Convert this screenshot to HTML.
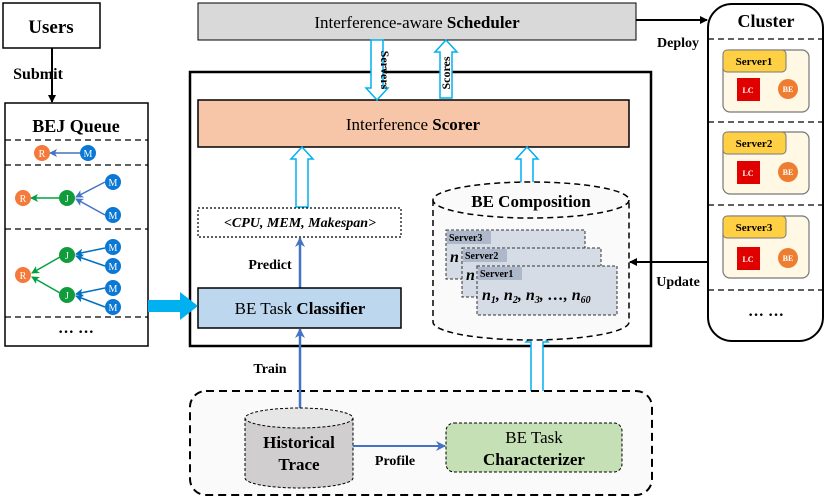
<!DOCTYPE html>
<html><head><meta charset="utf-8"><style>
body{margin:0;background:#fff}
svg{display:block;font-family:"Liberation Serif",serif}
</style></head><body>
<svg width="830" height="498" viewBox="0 0 830 498" xmlns="http://www.w3.org/2000/svg">
<defs>
<marker id="ak" markerWidth="8" markerHeight="8" refX="7" refY="4" orient="auto" markerUnits="userSpaceOnUse"><path d="M0,0 L8,4 L0,8 z" fill="#000"/></marker>
<marker id="ab" markerWidth="10" markerHeight="10" refX="9" refY="5" orient="auto" markerUnits="userSpaceOnUse"><path d="M0,0 L10,5 L0,10 L3,5 z" fill="#4472c4"/></marker>
<marker id="abl" markerWidth="8" markerHeight="8" refX="7" refY="4" orient="auto" markerUnits="userSpaceOnUse"><path d="M0,0 L8,4 L0,8 L2,4 z" fill="#4472c4"/></marker>
<marker id="ag" markerWidth="8" markerHeight="8" refX="7" refY="4" orient="auto" markerUnits="userSpaceOnUse"><path d="M0,0 L8,4 L0,8 L2,4 z" fill="#00a040"/></marker>
<marker id="am" markerWidth="8" markerHeight="8" refX="7" refY="4" orient="auto" markerUnits="userSpaceOnUse"><path d="M0,0 L8,4 L0,8 L2,4 z" fill="#0070c0"/></marker>
</defs>

<!-- Users -->
<rect x="3" y="3" width="97" height="45" fill="#fff" stroke="#000" stroke-width="1.5"/>
<text x="51" y="33" font-size="19" font-weight="bold" text-anchor="middle">Users</text>
<line x1="52" y1="48" x2="52" y2="102" stroke="#000" stroke-width="2" marker-end="url(#ak)"/>
<text x="38" y="79" font-size="16" font-weight="bold" text-anchor="middle">Submit</text>

<!-- BEJ Queue -->
<rect x="5" y="103" width="143" height="243" fill="#fff" stroke="#000" stroke-width="1.5"/>
<text x="76" y="132" font-size="18" font-weight="bold" text-anchor="middle">BEJ Queue</text>
<g stroke="#000" stroke-width="1.3" stroke-dasharray="6,4">
<line x1="5" y1="140" x2="148" y2="140"/><line x1="5" y1="165" x2="148" y2="165"/>
<line x1="5" y1="229" x2="148" y2="229"/><line x1="5" y1="317" x2="148" y2="317"/>
</g>
<text x="76" y="337" font-size="16" font-weight="bold" text-anchor="middle">··· ···</text>
<g stroke-width="1.5">
<line x1="80" y1="153" x2="50" y2="153" stroke="#4472c4" marker-end="url(#abl)"/>
<line x1="60" y1="198" x2="31" y2="198" stroke="#00a040" marker-end="url(#ag)"/>
<line x1="105" y1="182" x2="76" y2="197" stroke="#4472c4" marker-end="url(#abl)"/>
<line x1="105" y1="215" x2="76" y2="199" stroke="#4472c4" marker-end="url(#abl)"/>
<line x1="105" y1="248" x2="76" y2="254" stroke="#0070c0" marker-end="url(#am)"/>
<line x1="105" y1="266" x2="76" y2="256" stroke="#0070c0" marker-end="url(#am)"/>
<line x1="105" y1="288" x2="76" y2="294" stroke="#0070c0" marker-end="url(#am)"/>
<line x1="105" y1="307" x2="76" y2="296" stroke="#0070c0" marker-end="url(#am)"/>
<line x1="60" y1="257" x2="32" y2="273" stroke="#00a040" marker-end="url(#ag)"/>
<line x1="60" y1="293" x2="32" y2="277" stroke="#00a040" marker-end="url(#ag)"/>
</g>
<g font-size="10" fill="#fff" text-anchor="middle">
<circle cx="42" cy="153" r="8" fill="#f4793b"/><text x="42" y="157" fill="#fff">R</text>
<circle cx="88" cy="153" r="8" fill="#0a78d4"/><text x="88" y="157" fill="#fff">M</text>
<circle cx="23" cy="198" r="8" fill="#f4793b"/><text x="23" y="202" fill="#fff">R</text>
<circle cx="67" cy="198" r="8" fill="#119c3c"/><text x="67" y="202" fill="#fff">J</text>
<circle cx="113" cy="182" r="8" fill="#0a78d4"/><text x="113" y="186" fill="#fff">M</text>
<circle cx="113" cy="215" r="8" fill="#0a78d4"/><text x="113" y="219" fill="#fff">M</text>
<circle cx="23" cy="275" r="8" fill="#f4793b"/><text x="23" y="279" fill="#fff">R</text>
<circle cx="67" cy="255" r="8" fill="#119c3c"/><text x="67" y="259" fill="#fff">J</text>
<circle cx="67" cy="295" r="8" fill="#119c3c"/><text x="67" y="299" fill="#fff">J</text>
<circle cx="113" cy="247" r="8" fill="#0a78d4"/><text x="113" y="251" fill="#fff">M</text>
<circle cx="113" cy="266" r="8" fill="#0a78d4"/><text x="113" y="270" fill="#fff">M</text>
<circle cx="113" cy="288" r="8" fill="#0a78d4"/><text x="113" y="292" fill="#fff">M</text>
<circle cx="113" cy="307" r="8" fill="#0a78d4"/><text x="113" y="311" fill="#fff">M</text>
</g>

<!-- Scheduler -->
<rect x="198" y="3" width="438" height="37" fill="#d9d9d9" stroke="#000" stroke-width="1"/>
<text x="417" y="28" font-size="17" text-anchor="middle">Interference-aware <tspan font-weight="bold">Scheduler</tspan></text>

<!-- Main box -->
<rect x="190" y="72" width="461" height="274" fill="#fff" stroke="#000" stroke-width="2.5"/>
<rect x="198" y="100" width="431" height="47" fill="#f7c6a8" stroke="#000" stroke-width="1.5"/>
<text x="413" y="130" font-size="17" text-anchor="middle">Interference <tspan font-weight="bold">Scorer</tspan></text>

<!-- hollow arrows -->
<g fill="#fff" stroke="#00b0f0" stroke-width="1.5">
<polygon points="371,40 371,88 366,88 377,100 388,88 383,88 383,40"/>
<polygon points="440,98 440,52 435,52 446,40 457,52 452,52 452,98"/>
<polygon points="296,207 296,159 291,159 302,147 313,159 308,159 308,207"/>
<polygon points="521,183 521,159 516,159 527,147 538,159 533,159 533,183"/>
<polygon points="531,422 531,342 526,342 537,330 548,342 543,342 543,422"/>
</g>
<text transform="translate(381,70) rotate(90)" font-size="12" font-weight="bold" text-anchor="middle">Servers</text>
<text transform="translate(450,73) rotate(-90)" font-size="12" font-weight="bold" text-anchor="middle">Scores</text>

<!-- tuple -->
<rect x="198" y="208" width="203" height="29" fill="#fff" stroke="#000" stroke-width="1.2" stroke-dasharray="2,2"/>
<text x="300" y="227" font-size="14" font-weight="bold" font-style="italic" text-anchor="middle">&lt;CPU, MEM, Makespan&gt;</text>
<line x1="300" y1="288" x2="300" y2="238" stroke="#4472c4" stroke-width="2.5" marker-end="url(#ab)"/>
<text x="270" y="269" font-size="14" font-weight="bold" text-anchor="middle">Predict</text>

<!-- Classifier -->
<rect x="198" y="288" width="203" height="40" fill="#bdd7ee" stroke="#000" stroke-width="1.5"/>
<text x="300" y="314" font-size="17" text-anchor="middle">BE Task <tspan font-weight="bold">Classifier</tspan></text>

<!-- big cyan arrow -->
<polygon points="148,300 180,300 180,292 198,306 180,320 180,312 148,312" fill="#00b0f0"/>

<!-- BE Composition cylinder -->
<path d="M433,200 L433,322 A98,18 0 0 0 629,322 L629,200" fill="#fafafa" stroke="#000" stroke-width="1.5" stroke-dasharray="6,4"/>
<ellipse cx="531" cy="200" rx="98" ry="18" fill="#fafafa" stroke="#000" stroke-width="1.5" stroke-dasharray="6,4"/>
<text x="531" y="207" font-size="17" font-weight="bold" text-anchor="middle">BE Composition</text>
<g stroke="#333" stroke-width="1" stroke-dasharray="3,2" fill="#d6dce5">
<rect x="446" y="230" width="139" height="49"/>
<rect x="462" y="248" width="139" height="49"/>
<rect x="477" y="266" width="140" height="49"/>
</g>
<rect x="447" y="231" width="44" height="13" fill="#adb9ca"/><text x="449" y="241" font-size="10" font-weight="bold">Server3</text>
<text x="450" y="262" font-size="16" font-weight="bold" font-style="italic">n</text>
<rect x="463" y="249" width="44" height="13" fill="#adb9ca"/><text x="465" y="259" font-size="10" font-weight="bold">Server2</text>
<text x="466" y="280" font-size="16" font-weight="bold" font-style="italic">n</text>
<rect x="478" y="267" width="44" height="13" fill="#adb9ca"/><text x="480" y="277" font-size="10" font-weight="bold">Server1</text>
<text x="482" y="300" font-size="16" font-weight="bold" font-style="italic">n<tspan font-size="10" dy="3">1</tspan><tspan dy="-3">, n</tspan><tspan font-size="10" dy="3">2</tspan><tspan dy="-3">, n</tspan><tspan font-size="10" dy="3">3</tspan><tspan dy="-3">, …, n</tspan><tspan font-size="10" dy="3">60</tspan></text>

<!-- Cluster -->
<rect x="708" y="4" width="115" height="337" rx="24" fill="#fff" stroke="#000" stroke-width="2"/>
<text x="766" y="27" font-size="18" font-weight="bold" text-anchor="middle">Cluster</text>
<g stroke="#000" stroke-width="1.2" stroke-dasharray="6,4">
<line x1="708" y1="39" x2="823" y2="39"/><line x1="708" y1="122" x2="823" y2="122"/>
<line x1="708" y1="205" x2="823" y2="205"/><line x1="708" y1="290" x2="823" y2="290"/>
</g>
<g font-weight="bold">
<rect x="723" y="50" width="86" height="62" rx="7" fill="#fff8e5" stroke="#777" stroke-width="1.2"/>
<rect x="723" y="50" width="63" height="22" rx="4" fill="#ffd043" stroke="#777" stroke-width="1"/>
<text x="754" y="65" font-size="11" text-anchor="middle">Server1</text>
<rect x="737" y="78" width="23" height="23" fill="#e00000"/><text x="748" y="93" font-size="8" fill="#fff" text-anchor="middle">LC</text>
<circle cx="788" cy="89" r="10" fill="#ee7d31"/><text x="788" y="92" font-size="8" fill="#fff" text-anchor="middle">BE</text>

<rect x="723" y="132" width="86" height="62" rx="7" fill="#fff8e5" stroke="#777" stroke-width="1.2"/>
<rect x="723" y="132" width="63" height="22" rx="4" fill="#ffd043" stroke="#777" stroke-width="1"/>
<text x="754" y="147" font-size="11" text-anchor="middle">Server2</text>
<rect x="737" y="161" width="23" height="23" fill="#e00000"/><text x="748" y="176" font-size="8" fill="#fff" text-anchor="middle">LC</text>
<circle cx="788" cy="172" r="10" fill="#ee7d31"/><text x="788" y="175" font-size="8" fill="#fff" text-anchor="middle">BE</text>

<rect x="723" y="216" width="86" height="62" rx="7" fill="#fff8e5" stroke="#777" stroke-width="1.2"/>
<rect x="723" y="216" width="63" height="22" rx="4" fill="#ffd043" stroke="#777" stroke-width="1"/>
<text x="754" y="231" font-size="11" text-anchor="middle">Server3</text>
<rect x="737" y="247" width="23" height="23" fill="#e00000"/><text x="748" y="262" font-size="8" fill="#fff" text-anchor="middle">LC</text>
<circle cx="788" cy="258" r="10" fill="#ee7d31"/><text x="788" y="261" font-size="8" fill="#fff" text-anchor="middle">BE</text>
</g>
<text x="766" y="320" font-size="16" font-weight="bold" text-anchor="middle">··· ···</text>

<!-- Deploy / Update -->
<line x1="636" y1="20" x2="707" y2="20" stroke="#000" stroke-width="2" marker-end="url(#ak)"/>
<text x="678" y="47" font-size="14" font-weight="bold" text-anchor="middle">Deploy</text>
<line x1="708" y1="262" x2="630" y2="262" stroke="#000" stroke-width="2" marker-end="url(#ak)"/>
<text x="678" y="286" font-size="14" font-weight="bold" text-anchor="middle">Update</text>

<!-- Bottom box -->
<rect x="190" y="391" width="462" height="104" rx="16" fill="#fafafa" stroke="#000" stroke-width="2" stroke-dasharray="8,5"/>
<line x1="300" y1="415" x2="300" y2="329" stroke="#4472c4" stroke-width="2.5" marker-end="url(#ab)"/>
<text x="270" y="373" font-size="14" font-weight="bold" text-anchor="middle">Train</text>
<path d="M245,418 L245,478 A54,10 0 0 0 353,478 L353,418" fill="#d0cece" stroke="#000" stroke-width="1" stroke-dasharray="3,2"/>
<ellipse cx="299" cy="418" rx="54" ry="10" fill="#e7e6e6" stroke="#000" stroke-width="1" stroke-dasharray="3,2"/>
<text x="299" y="448" font-size="17" font-weight="bold" text-anchor="middle">Historical</text>
<text x="299" y="470" font-size="17" font-weight="bold" text-anchor="middle">Trace</text>
<line x1="353" y1="446" x2="445" y2="446" stroke="#4472c4" stroke-width="2" marker-end="url(#ab)"/>
<text x="395" y="465" font-size="14" font-weight="bold" text-anchor="middle">Profile</text>
<rect x="446" y="423" width="176" height="49" rx="8" fill="#c5e0b4" stroke="#000" stroke-width="1" stroke-dasharray="3,2"/>
<text x="534" y="443" font-size="17" text-anchor="middle">BE Task</text>
<text x="534" y="465" font-size="17" font-weight="bold" text-anchor="middle">Characterizer</text>
</svg>
</body></html>
